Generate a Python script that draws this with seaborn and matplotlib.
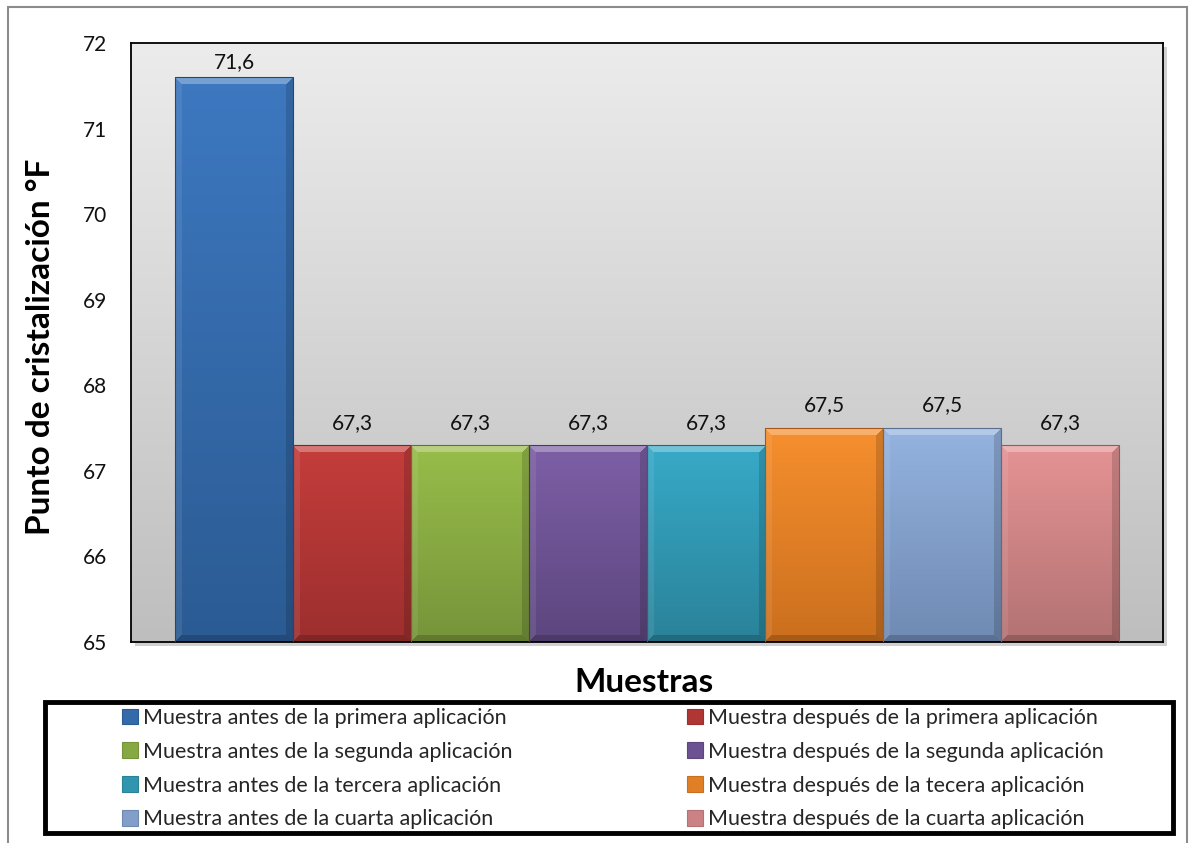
import numpy as np
import pandas as pd
import matplotlib
matplotlib.use("Agg")
import matplotlib.pyplot as plt
import matplotlib.colors as mcolors
from matplotlib.patches import Patch, Rectangle
import seaborn as sns

# ---------------- data ----------------
categories = [
    "Muestra antes de la primera aplicación",
    "Muestra después de la primera aplicación",
    "Muestra antes de la segunda aplicación",
    "Muestra después de la segunda aplicación",
    "Muestra antes de la tercera aplicación",
    "Muestra después de la tecera aplicación",
    "Muestra antes de la cuarta aplicación",
    "Muestra después de la cuarta aplicación",
]
values = [71.6, 67.3, 67.3, 67.3, 67.3, 67.5, 67.5, 67.3]
y_ticks = [65, 66, 67, 68, 69, 70, 71, 72]
y_label = "Punto de cristalización °F"
x_label = "Muestras"

top_colors = ["#3D78C0", "#C43D3B", "#98BD4A", "#7D5FA6",
              "#37AAC8", "#F68F2E", "#94B3DF", "#E59394"]
bottom_colors = ["#2B5B93", "#9C2F2E", "#76943A", "#5C467E",
                 "#2A8299", "#CB6F1E", "#6F8AB3", "#B37273"]

# ---------------- figure ----------------
sns.set_theme(style="white")
font = ["Lato", "DejaVu Sans"]
plt.rcParams["font.family"] = font

W, H = 1191, 843
fig = plt.figure(figsize=(W / 100, H / 100), dpi=100)
fig.patch.set_facecolor("white")

# outer frame
fig.add_artist(Rectangle((8 / W, -0.05), (1187 - 8) / W, 1.05 - 7 / H,
                         transform=fig.transFigure, fill=False,
                         edgecolor="#8C8C8C", lw=1.5))

ax_l, ax_r, ax_t, ax_b = 131, 1163, 43, 642
ax = fig.add_axes([ax_l / W, 1 - ax_b / H, (ax_r - ax_l) / W, (ax_b - ax_t) / H])

# plot area shadow
fig.add_artist(Rectangle(((ax_l + 4) / W, 1 - (ax_b + 4) / H),
                         (ax_r - ax_l) / W, (ax_b - ax_t) / H,
                         transform=fig.transFigure, facecolor="#D0D0D0",
                         edgecolor="none", zorder=0))

df = pd.DataFrame({"cat": categories, "val": values})
palette = dict(zip(categories, top_colors))
sns.barplot(data=df, x="cat", y="val", hue="cat", palette=palette,
            width=1.0, legend=False, ax=ax, order=categories, hue_order=categories)

gap = 44 / 118
ax.set_xlim(-0.5 - gap, len(categories) - 0.5 + gap)
ax.set_ylim(y_ticks[0], y_ticks[-1])
ax.set_yticks(y_ticks)
ax.set_yticklabels([str(t) for t in y_ticks], fontsize=15, color="#111111")
ax.tick_params(axis="y", length=0, pad=17)
ax.set_xticks([])
ax.set_xlabel("")
ax.set_ylabel("")
for s in ax.spines.values():
    s.set_visible(True)
    s.set_color("black")
    s.set_linewidth(1.3)

# plot background gradient
bg = np.linspace(0, 1, 256)[:, None]
c_top = np.array(mcolors.to_rgb("#ECECEC"))
c_bot = np.array(mcolors.to_rgb("#BEBEBE"))
bg_img = c_top[None, None, :] * (1 - bg[..., None]) + c_bot[None, None, :] * bg[..., None]
bg_img = np.repeat(bg_img, 2, axis=1)
ax.imshow(bg_img, extent=[0, 1, 0, 1], transform=ax.transAxes, aspect="auto",
          zorder=0, interpolation="bilinear")
ax.set_facecolor("none")


def bevel_image(ct, cb, wp, hp, b, strengths):
    t = np.linspace(0, 1, hp)[:, None, None]
    img = ct * (1 - t) + cb * t
    img = np.repeat(img, wp, axis=1)
    rows = np.arange(hp)[:, None]
    cols = np.arange(wp)[None, :]
    ones_c = np.ones_like(cols)
    ones_r = np.ones_like(rows)
    d = np.stack([rows * ones_c, (hp - 1 - rows) * ones_c,
                  cols * ones_r, (wp - 1 - cols) * ones_r])
    region = np.argmin(d, axis=0)
    inb = np.min(d, axis=0) < b
    targets = [np.ones(3), np.zeros(3), np.ones(3), np.zeros(3)]
    for r_idx, (c, a) in enumerate(zip(targets, strengths)):
        m = inb & (region == r_idx)
        img[m] = img[m] * (1 - a) + c * a
    return img


# bevelled gradient bars, drawn over the seaborn bar patches
fig.canvas.draw()
y0 = ax.get_ylim()[0]
bars = list(ax.patches)
for i, p in enumerate(bars):
    x = p.get_x()
    w = p.get_width()
    top = p.get_y() + p.get_height()
    bot = max(p.get_y(), y0)
    (px0, py0) = ax.transData.transform((x, bot))
    (px1, py1) = ax.transData.transform((x + w, top))
    wp = max(int(round(px1 - px0)), 2)
    hp = max(int(round(py1 - py0)), 2)
    ct = np.array(mcolors.to_rgb(top_colors[i]))
    cb = np.array(mcolors.to_rgb(bottom_colors[i]))
    img = bevel_image(ct, cb, wp, hp, 7, [0.30, 0.18, 0.08, 0.15])
    ax.imshow(img, extent=[x, x + w, bot, top], aspect="auto", zorder=2,
              interpolation="bilinear")
    p.set_facecolor("none")
    p.set_edgecolor(mcolors.to_hex(cb * 0.8))
    p.set_linewidth(0.8)
    p.set_zorder(3)

ax.set_xlim(-0.5 - gap, len(categories) - 0.5 + gap)
ax.set_ylim(y_ticks[0], y_ticks[-1])

# value labels (kept inside the plot area like the original)
fig.canvas.draw()
renderer = fig.canvas.get_renderer()
ax_top_px = ax.get_window_extent().y1
for p, v in zip(bars, values):
    ann = ax.annotate(f"{v:.1f}".replace(".", ","),
                      (p.get_x() + p.get_width() / 2, p.get_y() + p.get_height()),
                      xytext=(0, 9), textcoords="offset points", ha="center",
                      va="bottom", fontsize=15, color="#111111", zorder=5)
    bb = ann.get_window_extent(renderer)
    limit = ax_top_px - 9
    if bb.y1 > limit:
        shift_pt = (bb.y1 - limit) * 72 / fig.dpi
        ann.set_position((0, 9 - shift_pt))

# axis titles
fig.text(41 / W, 1 - 347 / H, y_label, rotation=90, ha="center", va="center",
         fontsize=24, fontweight="bold", color="black")
fig.text(644 / W, 1 - 682 / H, x_label, ha="center", va="center",
         fontsize=24, fontweight="bold", color="black")

# legend box
fig.add_artist(Rectangle((45 / W, 1 - 833 / H), (1173 - 45) / W, (833 - 702) / H,
                         transform=fig.transFigure, fill=False,
                         edgecolor="black", lw=3.5, zorder=4))
order = [0, 2, 4, 6, 1, 3, 5, 7]
handles = [Patch(facecolor=mcolors.to_hex((np.array(mcolors.to_rgb(top_colors[i])) +
                                           np.array(mcolors.to_rgb(bottom_colors[i]))) / 2),
                 edgecolor=bottom_colors[i], lw=0.8) for i in order]
labels = [categories[i] for i in order]
fig.legend(handles, labels, loc="upper left", bbox_to_anchor=(122 / W, 1 - 708 / H),
           ncol=2, frameon=False, fontsize=15.5, handlelength=0.74, handleheight=0.74,
           handletextpad=0.25, labelspacing=0.64, columnspacing=8.1, borderpad=0,
           borderaxespad=0)

fig.savefig("out.png", dpi=100, facecolor="white")
